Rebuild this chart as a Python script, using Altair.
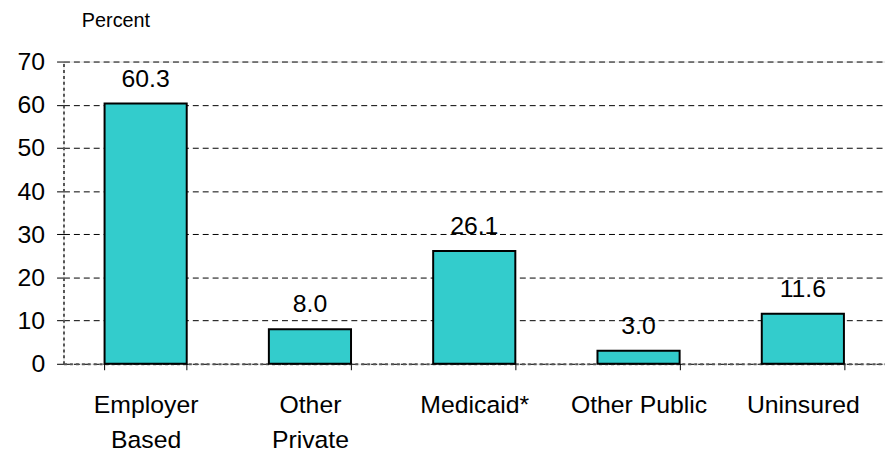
import altair as alt
import pandas as pd

categories = ["Employer|Based", "Other|Private", "Medicaid*", "Other Public", "Uninsured"]
values = [60.3, 8.0, 26.1, 3.0, 11.6]
labels = ["60.3", "8.0", "26.1", "3.0", "11.6"]

df = pd.DataFrame({"cat": categories, "val": values, "lab": labels})

FONT = "Liberation Sans"

x = alt.X("cat:N", sort=categories, title=None,
          scale=alt.Scale(paddingInner=0.5, paddingOuter=0.25),
          axis=alt.Axis(labelExpr="datum.value ? split(datum.value, '|') : ''", labelAngle=0,
                        labelFontSize=25, labelColor="black", labelFont=FONT,
                        labelLineHeight=35, labelPadding=43, labelBaseline="alphabetic",
                        tickBand="extent", tickSize=6, tickColor="black", tickWidth=1,
                        domainColor="#555555", domainDash=[3, 3], domainWidth=2,
                        grid=False))

y = alt.Y("val:Q", title="Percent",
          scale=alt.Scale(domain=[0, 70], nice=False),
          axis=alt.Axis(values=list(range(0, 80, 10)), labelFontSize=25,
                        labelColor="black", labelFont=FONT, labelPadding=12,
                        tickSize=7, tickColor="black",
                        domainColor="#555555", domainDash=[3, 3], domainWidth=2,
                        grid=True, gridColor="black", gridDash=[6, 4], gridWidth=1,
                        titleAngle=0, titleFont=FONT, titleFontSize=20,
                        titleFontWeight="normal", titleColor="black",
                        titleAlign="left", titleBaseline="alphabetic",
                        titleX=18, titleY=-35))

bars = alt.Chart(df).mark_bar(color="#33CCCC", stroke="black", strokeWidth=2).encode(x=x, y=y)
text = alt.Chart(df).mark_text(font=FONT, fontSize=25, color="black", dy=-17,
                               baseline="alphabetic").encode(
    x=alt.X("cat:N", sort=categories), y="val:Q", text="lab:N")

chart = (bars + text).properties(
    width=829, height=305,
    autosize=alt.AutoSizeParams(type="none"),
    padding={"left": 56, "top": 52, "right": 0, "bottom": 90},
).configure_view(stroke=None).configure(background="white")

chart.save("out.html", embed_options={"renderer": "svg", "actions": False})
